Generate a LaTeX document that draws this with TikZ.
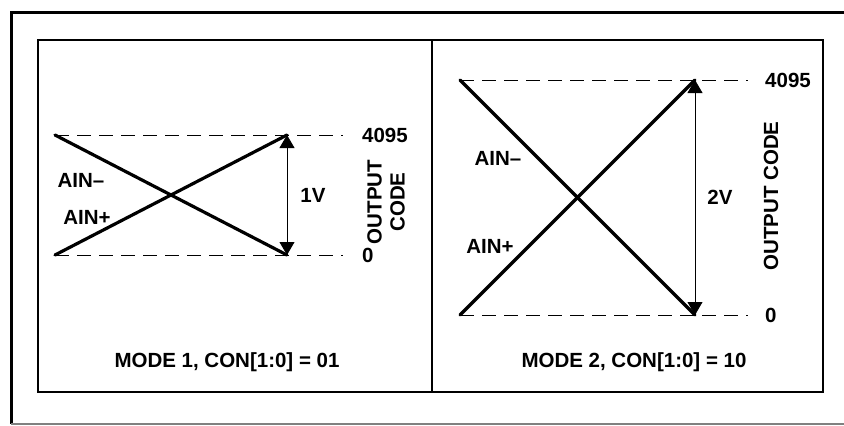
\documentclass[tikz,border=0pt]{standalone}
\usepackage{fontspec}
\setmainfont{Liberation Sans}
\usetikzlibrary{arrows.meta, positioning, calc}

\begin{document}
\begin{tikzpicture}[
  x=1pt, y=-1pt,
  >={Triangle[length=13pt,width=15pt]},
  frame/.style={draw, line width=3pt},
  panel/.style={draw, line width=2.2pt},
  level/.style={draw, dash pattern=on 14pt off 8pt, line width=0.9pt},
  signal/.style={draw, line width=3.2pt, line cap=round},
  span/.style={draw, line width=0.8pt, <->},
  lbl/.style={font=\fontsize{20.5}{23}\selectfont\bfseries, inner sep=0pt}
  ]
  \useasboundingbox (0,0) rectangle (844,426);
  % outer frame
  \draw[frame] (844,12) -- (11,12) -- (11,424);
  \draw[gray, line width=1.2pt] (11,424) -- (844,424);
  % the two panels
  \draw[panel] (38,40) rectangle (432,392);
  \draw[panel] (432,40) rectangle (823,392);

  % mode 1
  \coordinate (aTL) at (55,135);
  \coordinate (aBL) at (55,255);
  \coordinate (aTR) at (287,135);
  \coordinate (aBR) at (287,255);
  \coordinate (aTE) at (343,135);
  \coordinate (aBE) at (343,255);
  \draw[level] (aTL) -- (aTE);
  \draw[level] (aBL) -- (aBE);
  \draw[signal] (aTL) -- (aBR);
  \draw[signal] (aBL) -- (aTR);
  \draw[span] (aTR) -- (aBR);
  \node[lbl, anchor=west] (aTop) at (362,135) {4095};
  \node[lbl, anchor=west] (aZero) at (362,255) {0};
  \node[lbl] (aVolt) at (313,195) {1V};
  \node[lbl] (aMinus) at (81,180) {AIN–};
  \node[lbl] (aPlus) at (87,217) {AIN+};
  \node[lbl, rotate=90, align=center] (aCode) at (386,202) {OUTPUT\\CODE};
  \node[lbl] (aMode) at (227,362) {MODE 1, CON[1:0] = 01};

  % mode 2
  \coordinate (bTL) at (460,80);
  \coordinate (bBL) at (460,315);
  \coordinate (bTR) at (695,80);
  \coordinate (bBR) at (695,315);
  \coordinate (bTE) at (748,80);
  \coordinate (bBE) at (748,315);
  \draw[level] (bTL) -- (bTE);
  \draw[level] (bBL) -- (bBE);
  \draw[signal] (bTL) -- (bBR);
  \draw[signal] (bBL) -- (bTR);
  \draw[span] (bTR) -- (bBR);
  \node[lbl, anchor=west] (bTop) at (765,80) {4095};
  \node[lbl, anchor=west] (bZero) at (765,315) {0};
  \node[lbl] (bVolt) at (720,197) {2V};
  \node[lbl] (bMinus) at (498,158) {AIN–};
  \node[lbl] (bPlus) at (490,246) {AIN+};
  \node[lbl, rotate=90] (bCode) at (771,196) {OUTPUT CODE};
  \node[lbl] (bMode) at (634,362) {MODE 2, CON[1:0] = 10};
\end{tikzpicture}
\end{document}
